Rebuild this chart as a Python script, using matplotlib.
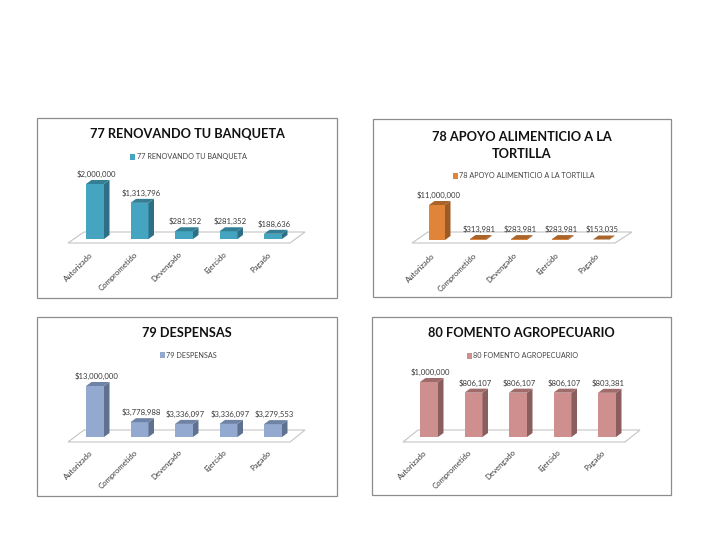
import matplotlib
matplotlib.use("Agg")
import matplotlib.pyplot as plt
from matplotlib.patches import Patch, Polygon, Rectangle

plt.rcParams['font.family'] = ['Lato', 'DejaVu Sans']

W, H = 720, 540
DEPTH_X, DEPTH_Y = 5.5, 4.0
BAR_PX = 18.0
STEP_PX = 44.5

categories = ["Autorizado", "Comprometido", "Devengado", "Ejercido", "Pagado"]

values_77 = [2000000, 1313796, 281352, 281352, 188636]
values_78 = [11000000, 313981, 283981, 283981, 153035]
values_79 = [13000000, 3778988, 3336097, 3336097, 3279553]
values_80 = [1000000, 806107, 806107, 806107, 803381]

title_77 = "77 RENOVANDO TU BANQUETA"
title_78 = "78 APOYO ALIMENTICIO A LA\nTORTILLA"
title_79 = "79 DESPENSAS"
title_80 = "80 FOMENTO AGROPECUARIO"

legend_77 = "77 RENOVANDO TU BANQUETA"
legend_78 = "78 APOYO ALIMENTICIO A LA TORTILLA"
legend_79 = "79 DESPENSAS"
legend_80 = "80 FOMENTO AGROPECUARIO"


def fx(px):
    return px / W


def fy(py):
    return 1 - py / H


def draw_chart(fig, title, legend, values, colors, frame, title_pos, legend_y,
               first_center, step, bar_w, base_y, max_h, floor):
    front, side, top = colors

    # panel frame, kept behind the axes
    x0, y0, x1, y1 = frame
    fig.add_artist(Rectangle((fx(x0), fy(y1)), fx(x1 - x0), (y1 - y0) / H,
                             transform=fig.transFigure, fc="white", ec="#8c8c8c",
                             lw=0.9, zorder=-3))

    # floor of the 3d plot
    pts = [(fx(a), fy(b)) for a, b in floor]
    fig.add_artist(Polygon(pts, closed=True, transform=fig.transFigure,
                           fc="white", ec="#c4c4c4", lw=0.8, zorder=-2))

    fig.text(fx(title_pos[0]), fy(title_pos[1]), title, ha="center", va="center",
             fontsize=9.2, fontweight="bold", color="#111111", linespacing=1.5)
    fig.legend(handles=[Patch(fc=front, ec="none", label=legend)], loc="center",
               bbox_to_anchor=(fx(title_pos[0] + 1.5), fy(legend_y)), frameon=False,
               fontsize=5.2, handlelength=0.7, handleheight=0.7, handletextpad=0.2,
               labelcolor="#444444")

    # axes placed so that bar i sits at x=i and value 0 at the base line
    left = first_center - step / 2
    ax = fig.add_axes([fx(left), fy(base_y), fx(5 * step), max_h / H])
    ax.set_xlim(-0.5, 4.5)
    ax.set_ylim(0, max(values))
    ax.axis("off")
    ax.patch.set_alpha(0)

    width = bar_w / step
    dx = DEPTH_X / step
    dy = DEPTH_Y / max_h * max(values)

    for i, v in enumerate(values):
        xl, xr = i - width / 2, i + width / 2
        ax.bar(i, v, width=width, color=front, edgecolor="none", zorder=2, clip_on=False)
        ax.add_patch(Polygon([(xr, 0), (xr + dx, dy), (xr + dx, v + dy), (xr, v)],
                             fc=side, ec="none", zorder=2, clip_on=False))
        ax.add_patch(Polygon([(xl, v), (xl + dx, v + dy), (xr + dx, v + dy), (xr, v)],
                             fc=top, ec="none", zorder=2, clip_on=False))
        ax.annotate(f"${v:,.0f}", (i, v + dy), xytext=(1, 1.5), textcoords="offset points",
                    ha="center", va="bottom", fontsize=5.6, color="#3a3a3a",
                    annotation_clip=False, zorder=3)
        ax.annotate(categories[i], (i, 0), xytext=(-4, -8.5), textcoords="offset points",
                    ha="right", va="top", rotation=45, rotation_mode="anchor",
                    fontsize=5.6, color="#3a3a3a", annotation_clip=False)


fig = plt.figure(figsize=(W / 100, H / 100), dpi=100, facecolor="white")

draw_chart(fig, title_77, legend_77, values_77, ("#45A5C1", "#2F6F85", "#357F95"),
           (37, 118, 337, 298), (187, 134), 157, 95, STEP_PX, BAR_PX, 239, 55,
           [(68, 243), (290, 243), (305, 232), (84, 232)])
draw_chart(fig, title_78, legend_78, values_78, ("#DF8438", "#9C5A24", "#A9642B"),
           (373, 119, 671, 297), (522, 145.5), 176, 437, 41, 16, 240, 35,
           [(412, 243), (615, 243), (632, 232), (428, 232)])
draw_chart(fig, title_79, legend_79, values_79, ("#94A9D0", "#5F718F", "#6E83A6"),
           (37, 317, 337, 496), (187, 333), 355, 95, STEP_PX, BAR_PX, 437, 51,
           [(68, 442), (290, 442), (305, 430), (84, 430)])
draw_chart(fig, title_80, legend_80, values_80, ("#CF8F8F", "#8B5E5E", "#A06B6B"),
           (372, 317, 671, 495), (521, 333), 356, 429, STEP_PX, BAR_PX, 437, 55,
           [(403, 442), (625, 442), (640, 430), (418, 430)])

fig.savefig("out.png", dpi=100)
